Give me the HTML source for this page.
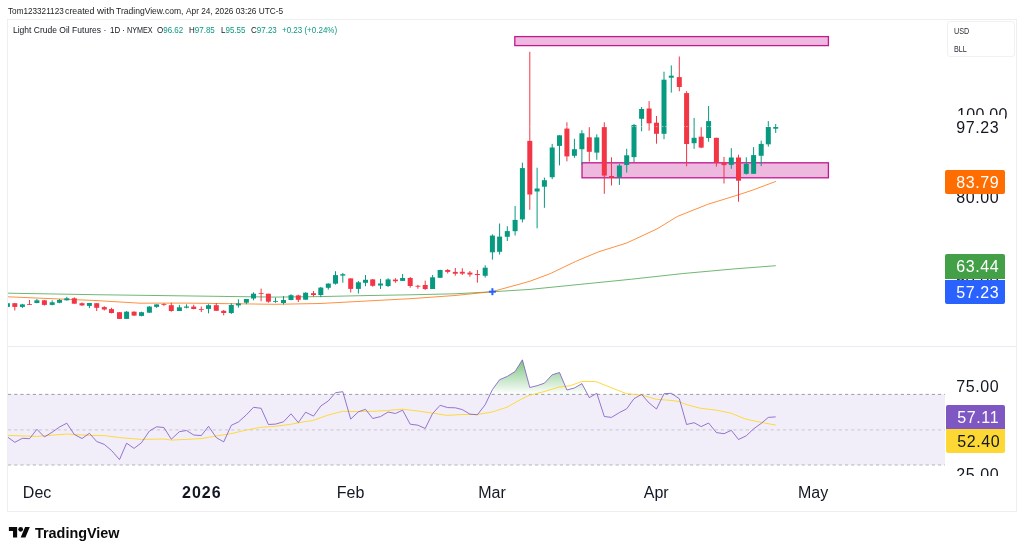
<!DOCTYPE html>
<html lang="en">
<head>
<meta charset="utf-8">
<title>Light Crude Oil Futures - TradingView</title>
<style>
html,body{margin:0;padding:0;background:#fff;}
body{width:1024px;height:554px;overflow:hidden;position:relative;font-family:"Liberation Sans",sans-serif;color:#131722;}
.abs{position:absolute;white-space:nowrap;}
#root{position:absolute;left:0;top:0;width:1024px;height:554px;will-change:transform;opacity:0.999;}
#hdr span{position:absolute;top:6.3px;font-size:8.6px;line-height:11px;color:#1d1d1d;transform-origin:0 50%;white-space:nowrap;}
#frame{left:7px;top:19px;width:1010px;height:493px;border:1px solid #eeeeee;box-sizing:border-box;}
#chart{left:0;top:0;}
.lg{top:25.3px;font-size:8.6px;line-height:11px;color:#131722;transform-origin:0 50%;}
.lg .v,.lg.v{color:#089981;}
#unit{left:947px;top:21px;width:68px;height:36px;border:1px solid #f1f1f1;border-radius:3px;box-sizing:border-box;background:#fff;}
#unit div{position:absolute;left:5.5px;font-size:8.6px;line-height:10px;color:#2a2e39;transform-origin:0 50%;transform:scaleX(0.84);}
.ax{font-size:16px;line-height:24px;height:24px;left:956.3px;color:#131722;letter-spacing:0.6px;}
.lab{left:945px;width:60px;height:24.3px;box-sizing:border-box;}
.lab span{position:absolute;left:11.3px;top:0.9px;font-size:16px;line-height:24.3px;color:#fff;letter-spacing:0.6px;}
.tm{font-size:16px;line-height:20px;top:483.2px;color:#131722;transform:translateX(-50%);}
#foot{left:35px;top:524px;font-size:14.4px;line-height:19px;font-weight:bold;color:#0a0a0a;transform-origin:0 50%;letter-spacing:0;}
</style>
</head>
<body>
<div id="root">
<div id="hdr"><span style="left:7.5px;transform:scaleX(0.951)">Tom123321123</span> <span style="left:65.1px;transform:scaleX(1.027)">created</span> <span style="left:96.9px;transform:scaleX(1.137)">with</span> <span style="left:116.4px;transform:scaleX(0.994)">TradingView.com,</span> <span style="left:185.6px;transform:scaleX(0.964)">Apr 24, 2026 03:26 UTC-5</span></div>
<div id="frame" class="abs"></div>
<svg id="chart" class="abs" width="1024" height="554" viewBox="0 0 1024 554">
<defs>
<clipPath id="main"><rect x="8" y="20" width="937" height="326"/></clipPath>
<clipPath id="rsi"><rect x="8" y="347" width="937" height="130"/></clipPath>
<linearGradient id="ob" gradientUnits="userSpaceOnUse" x1="0" y1="355" x2="0" y2="394.4">
<stop offset="0" stop-color="#4caf50" stop-opacity="0.85"/><stop offset="1" stop-color="#4caf50" stop-opacity="0"/>
</linearGradient>
</defs>
<!-- pane separator -->
<rect x="8" y="346" width="1008" height="1" fill="#e9ebf2"/>
<g clip-path="url(#main)">
<polyline points="8.0,293.2 95.0,294.7 185.0,295.9 275.0,297.1 320.0,296.6 365.0,295.6 410.0,294.8 455.0,293.8 492.0,291.8 530.0,289.4 580.8,284.3 631.6,279.2 682.4,273.6 733.1,269.0 775.8,265.7" fill="none" stroke="#43a047" stroke-width="0.9" stroke-opacity="0.85"/>
<polyline points="8.0,296.8 50.0,298.6 95.0,300.5 140.0,303.2 185.0,303.1 230.0,303.7 275.0,304.3 320.0,303.5 365.0,301.1 410.0,298.7 455.0,295.5 492.0,291.7 520.0,284.0 530.0,281.2 550.3,273.6 575.7,261.4 598.6,251.8 626.5,243.1 657.0,228.9 677.3,216.5 707.8,204.3 738.2,194.9 753.5,189.8 775.8,181.4" fill="none" stroke="#ff6d00" stroke-width="0.9" stroke-opacity="0.85"/>
<!-- drawn rectangles -->
<rect x="514.8" y="36.6" width="313.6" height="9" fill="#c21891" fill-opacity="0.3" stroke="#c21891" stroke-width="1.3"/>
<rect x="582" y="162.8" width="246.4" height="15" fill="#c21891" fill-opacity="0.3" stroke="#c21891" stroke-width="1.3"/>
<rect x="6.9" y="303.2" width="1" height="3.7" fill="#089981"/>
<rect x="4.9" y="303.2" width="5" height="3.7" fill="#089981"/>
<rect x="14.3" y="303.2" width="1" height="7.3" fill="#F23645"/>
<rect x="12.3" y="303.2" width="5" height="3.7" fill="#F23645"/>
<rect x="21.9" y="303.8" width="1" height="4.2" fill="#089981"/>
<rect x="19.9" y="304.4" width="5" height="2.5" fill="#089981"/>
<rect x="29.0" y="300.0" width="1" height="4.9" fill="#F23645"/>
<rect x="27.0" y="304.0" width="5" height="0.8" fill="#F23645"/>
<rect x="36.4" y="299.0" width="1" height="4.3" fill="#089981"/>
<rect x="34.4" y="300.3" width="5" height="2.7" fill="#089981"/>
<rect x="43.9" y="300.0" width="1" height="5.6" fill="#F23645"/>
<rect x="41.9" y="300.3" width="5" height="4.6" fill="#F23645"/>
<rect x="51.7" y="300.3" width="1" height="5.1" fill="#089981"/>
<rect x="49.7" y="302.3" width="5" height="2.6" fill="#089981"/>
<rect x="59.0" y="299.0" width="1" height="4.2" fill="#089981"/>
<rect x="57.0" y="300.0" width="5" height="2.8" fill="#089981"/>
<rect x="66.3" y="296.8" width="1" height="3.8" fill="#089981"/>
<rect x="64.3" y="298.3" width="5" height="2.0" fill="#089981"/>
<rect x="73.8" y="297.4" width="1" height="6.3" fill="#F23645"/>
<rect x="71.8" y="298.3" width="5" height="5.4" fill="#F23645"/>
<rect x="81.5" y="302.5" width="1" height="3.4" fill="#F23645"/>
<rect x="79.5" y="303.2" width="5" height="2.2" fill="#F23645"/>
<rect x="88.9" y="303.0" width="1" height="5.1" fill="#089981"/>
<rect x="86.9" y="303.0" width="5" height="2.9" fill="#089981"/>
<rect x="96.2" y="303.2" width="1" height="7.8" fill="#F23645"/>
<rect x="94.2" y="303.2" width="5" height="4.6" fill="#F23645"/>
<rect x="103.8" y="306.2" width="1" height="4.3" fill="#F23645"/>
<rect x="101.8" y="307.1" width="5" height="2.4" fill="#F23645"/>
<rect x="111.0" y="307.8" width="1" height="5.6" fill="#F23645"/>
<rect x="109.0" y="309.1" width="5" height="3.9" fill="#F23645"/>
<rect x="119.0" y="312.2" width="1" height="6.7" fill="#F23645"/>
<rect x="117.0" y="312.2" width="5" height="6.7" fill="#F23645"/>
<rect x="126.1" y="311.0" width="1" height="7.9" fill="#089981"/>
<rect x="124.1" y="311.7" width="5" height="7.2" fill="#089981"/>
<rect x="133.6" y="311.3" width="1" height="4.6" fill="#F23645"/>
<rect x="131.6" y="311.7" width="5" height="3.9" fill="#F23645"/>
<rect x="141.0" y="311.7" width="1" height="4.6" fill="#089981"/>
<rect x="139.0" y="312.2" width="5" height="3.7" fill="#089981"/>
<rect x="148.9" y="306.2" width="1" height="6.5" fill="#089981"/>
<rect x="146.9" y="306.6" width="5" height="6.1" fill="#089981"/>
<rect x="156.1" y="304.4" width="1" height="3.4" fill="#089981"/>
<rect x="154.1" y="304.4" width="5" height="2.5" fill="#089981"/>
<rect x="163.4" y="303.2" width="1" height="2.7" fill="#F23645"/>
<rect x="161.4" y="304.0" width="5" height="0.8" fill="#F23645"/>
<rect x="170.8" y="302.7" width="1" height="9.0" fill="#F23645"/>
<rect x="168.8" y="305.2" width="5" height="5.8" fill="#F23645"/>
<rect x="178.9" y="304.9" width="1" height="6.1" fill="#089981"/>
<rect x="176.9" y="307.3" width="5" height="3.7" fill="#089981"/>
<rect x="186.0" y="304.3" width="1" height="4.1" fill="#089981"/>
<rect x="184.0" y="306.5" width="5" height="1.2" fill="#089981"/>
<rect x="193.2" y="304.7" width="1" height="4.6" fill="#F23645"/>
<rect x="191.2" y="306.6" width="5" height="2.4" fill="#F23645"/>
<rect x="200.8" y="306.6" width="1" height="5.4" fill="#F23645"/>
<rect x="198.8" y="309.0" width="5" height="0.8" fill="#F23645"/>
<rect x="208.0" y="304.2" width="1" height="9.1" fill="#089981"/>
<rect x="206.0" y="305.2" width="5" height="3.7" fill="#089981"/>
<rect x="215.8" y="303.0" width="1" height="7.8" fill="#F23645"/>
<rect x="213.8" y="305.2" width="5" height="5.6" fill="#F23645"/>
<rect x="223.2" y="310.0" width="1" height="5.4" fill="#F23645"/>
<rect x="221.2" y="310.8" width="5" height="2.2" fill="#F23645"/>
<rect x="230.8" y="303.2" width="1" height="10.8" fill="#089981"/>
<rect x="228.8" y="305.0" width="5" height="8.0" fill="#089981"/>
<rect x="237.9" y="299.3" width="1" height="8.3" fill="#089981"/>
<rect x="235.9" y="303.4" width="5" height="2.0" fill="#089981"/>
<rect x="245.9" y="299.0" width="1" height="5.2" fill="#089981"/>
<rect x="243.9" y="299.0" width="5" height="3.7" fill="#089981"/>
<rect x="253.0" y="292.3" width="1" height="8.0" fill="#089981"/>
<rect x="251.0" y="293.7" width="5" height="4.8" fill="#089981"/>
<rect x="260.6" y="288.6" width="1" height="12.7" fill="#F23645"/>
<rect x="258.6" y="293.2" width="5" height="0.8" fill="#F23645"/>
<rect x="267.9" y="293.7" width="1" height="9.0" fill="#F23645"/>
<rect x="265.9" y="293.7" width="5" height="8.0" fill="#F23645"/>
<rect x="275.0" y="297.6" width="1" height="5.2" fill="#089981"/>
<rect x="273.0" y="301.2" width="5" height="0.8" fill="#089981"/>
<rect x="283.0" y="296.1" width="1" height="8.3" fill="#089981"/>
<rect x="281.0" y="300.0" width="5" height="3.0" fill="#089981"/>
<rect x="290.5" y="294.2" width="1" height="6.1" fill="#089981"/>
<rect x="288.5" y="295.2" width="5" height="4.8" fill="#089981"/>
<rect x="297.8" y="294.7" width="1" height="7.3" fill="#F23645"/>
<rect x="295.8" y="295.4" width="5" height="4.4" fill="#F23645"/>
<rect x="305.1" y="292.4" width="1" height="7.3" fill="#089981"/>
<rect x="303.1" y="292.7" width="5" height="7.0" fill="#089981"/>
<rect x="313.0" y="291.0" width="1" height="5.6" fill="#F23645"/>
<rect x="311.0" y="293.2" width="5" height="1.8" fill="#F23645"/>
<rect x="320.3" y="286.9" width="1" height="10.2" fill="#089981"/>
<rect x="318.3" y="287.6" width="5" height="7.4" fill="#089981"/>
<rect x="327.8" y="283.3" width="1" height="6.3" fill="#089981"/>
<rect x="325.8" y="283.6" width="5" height="4.2" fill="#089981"/>
<rect x="335.0" y="271.2" width="1" height="13.4" fill="#089981"/>
<rect x="333.0" y="275.1" width="5" height="8.6" fill="#089981"/>
<rect x="342.3" y="272.9" width="1" height="9.8" fill="#089981"/>
<rect x="340.3" y="274.2" width="5" height="1.4" fill="#089981"/>
<rect x="350.2" y="278.4" width="1" height="14.1" fill="#F23645"/>
<rect x="348.2" y="278.4" width="5" height="10.5" fill="#F23645"/>
<rect x="357.9" y="281.0" width="1" height="12.5" fill="#089981"/>
<rect x="355.9" y="282.3" width="5" height="6.6" fill="#089981"/>
<rect x="365.0" y="275.1" width="1" height="11.1" fill="#089981"/>
<rect x="363.0" y="279.8" width="5" height="3.0" fill="#089981"/>
<rect x="372.2" y="279.0" width="1" height="7.7" fill="#F23645"/>
<rect x="370.2" y="279.4" width="5" height="6.4" fill="#F23645"/>
<rect x="380.0" y="278.9" width="1" height="10.1" fill="#089981"/>
<rect x="378.0" y="283.5" width="5" height="2.0" fill="#089981"/>
<rect x="387.6" y="278.2" width="1" height="8.8" fill="#089981"/>
<rect x="385.6" y="279.4" width="5" height="6.6" fill="#089981"/>
<rect x="394.9" y="278.2" width="1" height="4.6" fill="#F23645"/>
<rect x="392.9" y="279.6" width="5" height="1.6" fill="#F23645"/>
<rect x="402.1" y="274.0" width="1" height="6.9" fill="#089981"/>
<rect x="400.1" y="278.0" width="5" height="2.9" fill="#089981"/>
<rect x="409.7" y="277.0" width="1" height="10.7" fill="#F23645"/>
<rect x="407.7" y="278.0" width="5" height="8.0" fill="#F23645"/>
<rect x="417.4" y="284.8" width="1" height="3.9" fill="#F23645"/>
<rect x="415.4" y="285.8" width="5" height="0.9" fill="#F23645"/>
<rect x="424.7" y="280.6" width="1" height="9.4" fill="#F23645"/>
<rect x="422.7" y="285.0" width="5" height="4.0" fill="#F23645"/>
<rect x="432.1" y="275.0" width="1" height="14.0" fill="#089981"/>
<rect x="430.1" y="277.3" width="5" height="11.7" fill="#089981"/>
<rect x="439.6" y="269.7" width="1" height="8.1" fill="#089981"/>
<rect x="437.6" y="270.0" width="5" height="7.8" fill="#089981"/>
<rect x="447.2" y="269.0" width="1" height="4.5" fill="#F23645"/>
<rect x="445.2" y="270.0" width="5" height="1.9" fill="#F23645"/>
<rect x="454.8" y="268.0" width="1" height="7.6" fill="#F23645"/>
<rect x="452.8" y="271.9" width="5" height="1.8" fill="#F23645"/>
<rect x="461.8" y="268.2" width="1" height="6.8" fill="#F23645"/>
<rect x="459.8" y="271.8" width="5" height="1.8" fill="#F23645"/>
<rect x="469.4" y="271.0" width="1" height="5.7" fill="#F23645"/>
<rect x="467.4" y="272.6" width="5" height="1.9" fill="#F23645"/>
<rect x="476.9" y="270.0" width="1" height="12.7" fill="#F23645"/>
<rect x="474.9" y="274.0" width="5" height="1.0" fill="#F23645"/>
<rect x="484.7" y="265.3" width="1" height="12.3" fill="#089981"/>
<rect x="482.7" y="267.7" width="5" height="8.1" fill="#089981"/>
<rect x="491.9" y="234.3" width="1" height="25.3" fill="#089981"/>
<rect x="489.9" y="235.6" width="5" height="16.7" fill="#089981"/>
<rect x="499.1" y="223.5" width="1" height="31.0" fill="#089981"/>
<rect x="497.1" y="236.6" width="5" height="15.2" fill="#089981"/>
<rect x="506.8" y="226.2" width="1" height="14.8" fill="#089981"/>
<rect x="504.8" y="231.1" width="5" height="5.7" fill="#089981"/>
<rect x="514.6" y="206.0" width="1" height="29.5" fill="#089981"/>
<rect x="512.6" y="219.9" width="5" height="11.3" fill="#089981"/>
<rect x="521.9" y="162.7" width="1" height="59.7" fill="#089981"/>
<rect x="519.9" y="168.1" width="5" height="51.3" fill="#089981"/>
<rect x="529.3" y="51.8" width="1" height="158.0" fill="#F23645"/>
<rect x="527.3" y="140.9" width="5" height="53.6" fill="#F23645"/>
<rect x="536.6" y="167.7" width="1" height="60.6" fill="#089981"/>
<rect x="534.6" y="188.5" width="5" height="3.0" fill="#089981"/>
<rect x="543.9" y="177.6" width="1" height="30.2" fill="#089981"/>
<rect x="541.9" y="180.2" width="5" height="6.5" fill="#089981"/>
<rect x="551.7" y="143.9" width="1" height="35.3" fill="#089981"/>
<rect x="549.7" y="147.5" width="5" height="29.7" fill="#089981"/>
<rect x="559.0" y="135.3" width="1" height="30.0" fill="#089981"/>
<rect x="557.0" y="135.3" width="5" height="10.6" fill="#089981"/>
<rect x="566.4" y="122.3" width="1" height="39.0" fill="#F23645"/>
<rect x="564.4" y="128.6" width="5" height="27.8" fill="#F23645"/>
<rect x="573.9" y="138.8" width="1" height="19.0" fill="#089981"/>
<rect x="571.9" y="149.2" width="5" height="6.6" fill="#089981"/>
<rect x="581.4" y="130.2" width="1" height="34.5" fill="#089981"/>
<rect x="579.4" y="133.3" width="5" height="15.9" fill="#089981"/>
<rect x="588.8" y="127.2" width="1" height="34.5" fill="#F23645"/>
<rect x="586.8" y="137.3" width="5" height="14.5" fill="#F23645"/>
<rect x="596.3" y="134.3" width="1" height="25.5" fill="#089981"/>
<rect x="594.3" y="137.4" width="5" height="15.2" fill="#089981"/>
<rect x="603.8" y="122.3" width="1" height="71.5" fill="#F23645"/>
<rect x="601.8" y="127.1" width="5" height="48.5" fill="#F23645"/>
<rect x="611.0" y="157.3" width="1" height="28.2" fill="#F23645"/>
<rect x="609.0" y="176.0" width="5" height="1.5" fill="#F23645"/>
<rect x="618.9" y="164.0" width="1" height="20.9" fill="#089981"/>
<rect x="616.9" y="165.6" width="5" height="11.5" fill="#089981"/>
<rect x="626.2" y="148.8" width="1" height="23.8" fill="#089981"/>
<rect x="624.2" y="155.3" width="5" height="9.7" fill="#089981"/>
<rect x="633.5" y="124.0" width="1" height="38.0" fill="#089981"/>
<rect x="631.5" y="125.0" width="5" height="32.1" fill="#089981"/>
<rect x="641.1" y="107.0" width="1" height="24.3" fill="#089981"/>
<rect x="639.1" y="109.0" width="5" height="9.8" fill="#089981"/>
<rect x="648.6" y="101.1" width="1" height="29.5" fill="#F23645"/>
<rect x="646.6" y="108.5" width="5" height="14.8" fill="#F23645"/>
<rect x="656.0" y="116.0" width="1" height="27.7" fill="#F23645"/>
<rect x="654.0" y="122.7" width="5" height="11.1" fill="#F23645"/>
<rect x="663.5" y="71.7" width="1" height="67.5" fill="#089981"/>
<rect x="661.5" y="79.7" width="5" height="54.1" fill="#089981"/>
<rect x="670.8" y="65.4" width="1" height="27.2" fill="#089981"/>
<rect x="668.8" y="75.7" width="5" height="2.0" fill="#089981"/>
<rect x="678.8" y="56.5" width="1" height="34.7" fill="#F23645"/>
<rect x="676.8" y="77.1" width="5" height="9.9" fill="#F23645"/>
<rect x="686.1" y="91.2" width="1" height="75.1" fill="#F23645"/>
<rect x="684.1" y="93.1" width="5" height="50.9" fill="#F23645"/>
<rect x="693.6" y="117.9" width="1" height="31.0" fill="#089981"/>
<rect x="691.6" y="137.8" width="5" height="5.4" fill="#089981"/>
<rect x="700.7" y="127.2" width="1" height="21.0" fill="#F23645"/>
<rect x="698.7" y="136.7" width="5" height="10.9" fill="#F23645"/>
<rect x="708.1" y="106.0" width="1" height="35.7" fill="#089981"/>
<rect x="706.1" y="121.1" width="5" height="16.9" fill="#089981"/>
<rect x="715.9" y="137.8" width="1" height="28.8" fill="#F23645"/>
<rect x="713.9" y="137.8" width="5" height="24.9" fill="#F23645"/>
<rect x="723.5" y="156.9" width="1" height="26.6" fill="#F23645"/>
<rect x="721.5" y="162.7" width="5" height="2.4" fill="#F23645"/>
<rect x="730.8" y="148.2" width="1" height="20.6" fill="#089981"/>
<rect x="728.8" y="157.5" width="5" height="7.4" fill="#089981"/>
<rect x="738.0" y="154.7" width="1" height="47.0" fill="#F23645"/>
<rect x="736.0" y="157.5" width="5" height="23.2" fill="#F23645"/>
<rect x="745.8" y="157.3" width="1" height="17.3" fill="#089981"/>
<rect x="743.8" y="163.8" width="5" height="10.0" fill="#089981"/>
<rect x="753.1" y="147.1" width="1" height="26.7" fill="#089981"/>
<rect x="751.1" y="155.1" width="5" height="18.7" fill="#089981"/>
<rect x="760.7" y="140.6" width="1" height="25.4" fill="#089981"/>
<rect x="758.7" y="143.9" width="5" height="11.9" fill="#089981"/>
<rect x="767.8" y="121.1" width="1" height="25.6" fill="#089981"/>
<rect x="765.8" y="127.0" width="5" height="17.3" fill="#089981"/>
<rect x="775.2" y="124.0" width="1" height="9.0" fill="#089981"/>
<rect x="773.2" y="127.0" width="5" height="1.7" fill="#089981"/>
<line x1="8" y1="126.6" x2="945" y2="126.6" stroke="#ffffff" stroke-opacity="0.5" stroke-width="1" stroke-dasharray="1.5 1.5"/>
<!-- blue cross -->
<rect x="488.9" y="290.7" width="7" height="2" fill="#2962ff"/><rect x="491.4" y="288.2" width="2" height="7" fill="#2962ff"/>
</g>
<g clip-path="url(#rsi)">
<rect x="8" y="394.4" width="937" height="70.6" fill="#7e57c2" fill-opacity="0.1"/>
<polygon points="334.0,394.4 335.5,392.7 342.8,391.7 343.6,394.4" fill="url(#ob)"/>
<polygon points="490.1,394.4 492.4,389.6 499.6,379.7 507.3,376.4 515.1,371.5 522.4,359.8 529.8,387.5 537.1,385.7 544.4,383.2 552.2,374.8 559.5,372.5 566.9,390.0 574.4,388.0 581.9,383.6 587.6,394.4" fill="url(#ob)"/>
<polygon points="594.9,394.4 596.8,393.3 597.2,394.4" fill="url(#ob)"/>
<polygon points="663.7,394.4 664.0,393.7 671.3,393.3 672.9,394.4" fill="url(#ob)"/>
<line x1="8" y1="394.4" x2="945" y2="394.4" stroke="#787b86" stroke-opacity="0.72" stroke-width="1" stroke-dasharray="3.2 3"/>
<line x1="8" y1="429.9" x2="945" y2="429.9" stroke="#787b86" stroke-opacity="0.35" stroke-width="1" stroke-dasharray="3.2 3"/>
<line x1="8" y1="465" x2="945" y2="465" stroke="#787b86" stroke-opacity="0.55" stroke-width="1" stroke-dasharray="3.2 3"/>
<polyline points="7.4,435.4 36.9,436.4 66.8,434.0 89.4,435.4 105.6,435.7 119.5,437.6 141.5,439.4 163.9,439.0 171.3,440.1 190.0,439.2 201.1,438.6 216.0,436.0 231.0,433.7 245.7,430.2 260.7,427.3 275.4,426.3 290.6,424.3 305.2,421.6 312.7,420.6 327.7,415.2 342.7,411.3 357.6,411.6 372.6,411.3 387.4,410.5 402.5,409.2 417.1,410.9 432.3,413.1 447.0,415.4 462.0,414.5 477.1,414.5 491.9,412.1 507.0,407.2 522.0,398.8 529.4,395.3 544.1,391.6 559.1,387.1 570.0,385.8 581.8,381.5 595.8,381.5 610.8,387.5 626.5,393.7 641.5,395.0 656.4,399.3 671.0,400.4 678.9,401.5 686.0,404.5 700.6,408.3 716.1,410.1 730.7,413.1 745.7,419.1 760.8,422.3 775.8,425.1" fill="none" stroke="#fdd835" stroke-width="0.95"/>
<polyline points="7.4,436.9 14.8,442.3 22.4,438.3 29.5,438.7 36.9,429.3 44.4,436.9 52.2,432.2 59.5,427.0 66.8,423.2 74.3,434.5 82.0,438.5 89.4,433.3 96.7,441.5 104.3,444.4 111.5,450.5 119.5,459.6 126.6,443.2 134.1,448.4 141.5,442.7 149.4,431.0 156.6,426.8 163.9,427.5 171.3,439.2 179.4,431.7 186.5,430.5 193.7,435.0 201.3,435.6 208.5,426.3 216.3,437.6 223.7,441.9 231.3,425.3 238.4,422.0 246.4,414.8 253.5,407.3 261.1,408.3 268.4,424.5 275.5,424.1 283.5,421.8 291.0,413.8 298.3,422.6 305.6,412.2 313.5,416.1 320.8,406.0 328.3,400.9 335.5,392.7 342.8,391.7 350.7,419.1 358.4,411.8 365.5,409.3 372.7,418.5 380.5,416.6 388.1,412.0 395.4,413.5 402.6,410.2 410.2,424.2 417.9,425.2 425.2,428.5 432.6,413.5 440.1,405.3 447.7,407.6 455.3,407.8 462.3,409.6 469.9,414.1 477.4,414.8 485.2,404.7 492.4,389.6 499.6,379.7 507.3,376.4 515.1,371.5 522.4,359.8 529.8,387.5 537.1,385.7 544.4,383.2 552.2,374.8 559.5,372.5 566.9,390.0 574.4,388.0 581.9,383.6 589.3,397.6 596.8,393.3 604.3,416.5 611.5,417.4 619.4,412.6 626.7,408.8 634.0,398.7 641.6,394.4 649.1,403.0 656.5,409.0 664.0,393.7 671.3,393.3 679.3,398.7 686.6,424.5 694.1,422.7 701.2,426.6 708.6,423.0 716.4,432.6 724.0,433.7 731.3,430.3 738.5,439.5 746.3,435.8 753.6,428.8 761.2,423.4 768.3,417.4 775.7,416.9" fill="none" stroke="#7e57c2" stroke-width="0.9" stroke-opacity="0.9"/>
</g>
<!-- TradingView logo -->
<g transform="translate(8.9,524.6) scale(0.589)" fill="#0a0a0a">
<path d="M14 22H7V11H0V4h14v18zM28 22h-8l7.5-18h8L28 22z"/><circle cx="20" cy="8" r="4"/>
</g>
</svg>
<div id="legend">
<div class="abs lg" style="left:12.7px;transform:scaleX(0.99)">Light Crude Oil Futures</div> <div class="abs lg" style="left:103.6px">·</div> <div class="abs lg" style="left:109.9px;transform:scaleX(0.92)">1D</div> <div class="abs lg" style="left:121.9px">·</div> <div class="abs lg" style="left:126.6px;transform:scaleX(0.84)">NYMEX</div>
<div class="abs lg" style="left:157px;transform:scaleX(0.93)">O<span class="v">96.62</span></div>
<div class="abs lg" style="left:189.3px;transform:scaleX(0.93)">H<span class="v">97.85</span></div>
<div class="abs lg" style="left:220.8px;transform:scaleX(0.93)">L<span class="v">95.55</span></div>
<div class="abs lg" style="left:251px;transform:scaleX(0.93)">C<span class="v">97.23</span></div>
<div class="abs lg v" style="left:282px;transform:scaleX(0.93)">+0.23 (+0.24%)</div>
</div>
<div id="unit" class="abs"><div style="top:3.9px">USD</div><div style="top:21.6px">BLL</div></div>
<!-- price axis -->
<div class="abs ax" style="top:103.4px;letter-spacing:0.3px;left:957px">100.00</div>
<div class="abs ax" style="top:185.9px">80.00</div>
<div class="abs ax" style="top:268.6px">60.00</div>
<div class="abs lab" style="top:115.3px;background:#fff"><span style="color:#131722">97.23</span></div>
<div class="abs lab" style="top:170px;height:24px;background:#ff6d00;border-radius:2px"><span>83.79</span></div>
<div class="abs lab" style="top:254px;height:25px;background:#43a047;border-radius:2px 2px 0 0"><span>63.44</span></div>
<div class="abs lab" style="top:280px;height:23.6px;background:#2962ff;border-radius:0 0 2px 2px"><span>57.23</span></div>
<!-- rsi axis -->
<div class="abs ax" style="top:374.7px">75.00</div>
<div class="abs ax" style="top:463px;height:13px;overflow:hidden">25.00</div>
<div class="abs lab" style="top:405.2px;left:946px;width:59px;height:24px;background:#7e57c2;border-radius:2px 2px 0 0"><span>57.11</span></div>
<div class="abs lab" style="top:429.2px;left:946px;width:59px;height:24px;background:#fdd835;border-radius:0 0 2px 2px"><span style="color:#131722">52.40</span></div>
<!-- time axis -->
<div class="abs tm" style="left:37.1px">Dec</div>
<div class="abs tm" style="left:201.8px;font-weight:bold;letter-spacing:1px">2026</div>
<div class="abs tm" style="left:350.6px">Feb</div>
<div class="abs tm" style="left:492px">Mar</div>
<div class="abs tm" style="left:656.2px">Apr</div>
<div class="abs tm" style="left:813.1px">May</div>
<div id="foot" class="abs">TradingView</div>
</div>
</body>
</html>
